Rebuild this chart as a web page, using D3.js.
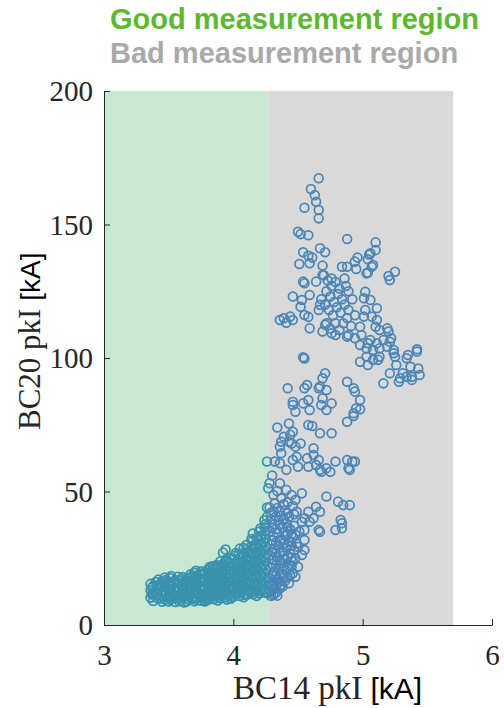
<!DOCTYPE html>
<html>
<head>
<meta charset="utf-8">
<script src="https://cdn.jsdelivr.net/npm/d3@7/dist/d3.min.js"></script>
<style>
  body { margin: 0; background: #fff; }
  svg { display: block; }
</style>
</head>
<body>
<svg id="chart" width="504" height="708"></svg>
<script>
// Axis ticks
const xTicks = [3, 4, 5, 6];
const yTicks = [0, 50, 100, 150, 200];

// Measurement regions along BC14 pkI [kA]: good from 3 to 4.27, bad from 4.27 to 5.7
const regionEdges = [3, 4.27, 5.7];
const regionNames = ["Good measurement region", "Bad measurement region"];

// Shots as [BC14 pkI, BC20 pkI] in kA — low-current band
const lowBand = [
  [3.36,10.2],[3.36,13.0],[3.36,15.4],[3.38,9.0],[3.38,11.8],[3.38,14.6],
  [3.40,10.4],[3.40,12.5],[3.40,16.1],[3.42,9.8],[3.42,13.6],[3.42,17.0],
  [3.45,8.7],[3.45,11.0],[3.45,14.2],[3.45,16.5],[3.47,9.5],[3.47,12.8],[3.47,15.6],[3.47,17.8],
  [3.50,8.8],[3.50,10.6],[3.50,13.4],[3.50,16.2],[3.52,9.9],[3.52,12.0],[3.52,14.9],[3.52,18.3],
  [3.55,8.6],[3.55,11.2],[3.55,14.0],[3.55,16.8],[3.57,10.0],[3.57,12.7],[3.57,15.5],[3.57,18.1],
  [3.60,9.2],[3.60,11.9],[3.60,14.6],[3.60,17.3],[3.62,8.4],[3.62,10.8],[3.62,13.5],[3.62,16.0],
  [3.65,9.6],[3.65,12.3],[3.65,15.1],[3.65,17.6],[3.67,11.1],[3.67,13.9],[3.67,16.7],[3.67,19.0],
  [3.70,8.9],[3.70,11.6],[3.70,14.4],[3.70,17.0],[3.70,19.6],[3.72,10.3],[3.72,13.0],[3.72,15.8],[3.72,18.4],
  [3.75,9.1],[3.75,11.8],[3.75,14.7],[3.75,17.5],[3.75,20.1],[3.77,10.5],[3.77,13.3],[3.77,16.1],[3.77,18.9],
  [3.80,9.4],[3.80,12.2],[3.80,15.0],[3.80,17.8],[3.80,20.6],[3.82,10.9],[3.82,13.8],[3.82,16.6],[3.82,19.3],[3.82,21.8],
  [3.85,9.7],[3.85,12.5],[3.85,15.3],[3.85,18.1],[3.85,21.0],[3.87,11.2],[3.87,14.1],[3.87,16.9],[3.87,19.8],[3.87,22.5],
  [3.90,10.0],[3.90,12.8],[3.90,15.6],[3.90,18.5],[3.90,21.3],[3.90,23.9],
  [3.92,11.5],[3.92,14.4],[3.92,17.2],[3.92,20.1],[3.92,22.8],[3.92,27.1],
  [3.94,10.3],[3.94,13.1],[3.94,16.0],[3.94,18.8],[3.94,21.6],[3.94,24.4],[3.94,28.3],
  [3.97,11.8],[3.97,14.7],[3.97,17.5],[3.97,20.4],[3.97,23.2],
  [4.00,10.6],[4.00,13.4],[4.00,16.3],[4.00,19.1],[4.00,22.0],[4.00,24.8],
  [4.02,12.1],[4.02,15.0],[4.02,17.8],[4.02,20.7],[4.02,23.5],[4.02,27.0],
  [4.05,10.9],[4.05,13.7],[4.05,16.6],[4.05,19.4],[4.05,22.3],[4.05,25.2],[4.05,28.6],
  [4.07,12.4],[4.07,15.3],[4.07,18.1],[4.07,21.0],[4.07,23.9],[4.07,26.7],
  [4.10,11.2],[4.10,14.0],[4.10,16.9],[4.10,19.8],[4.10,22.6],[4.10,25.5],[4.10,28.4],[4.10,30.0],
  [4.12,12.7],[4.12,15.6],[4.12,18.5],[4.12,21.3],[4.12,24.2],[4.12,27.1],
  [4.15,11.5],[4.15,14.3],[4.15,17.2],[4.15,20.1],[4.15,23.0],[4.15,25.8],[4.15,28.7],[4.15,31.5],[4.15,34.3],
  [4.17,13.0],[4.17,15.9],[4.17,18.8],[4.17,21.7],[4.17,24.5],[4.17,27.4],[4.17,30.3],
  [4.20,11.8],[4.20,14.6],[4.20,17.5],[4.20,20.4],[4.20,23.3],[4.20,26.2],[4.20,29.0],[4.20,31.9],[4.20,35.0],
  [4.22,13.3],[4.22,16.2],[4.22,19.1],[4.22,22.0],[4.22,24.9],[4.22,27.8],[4.22,30.6],[4.22,33.5],
  [4.25,12.1],[4.25,14.9],[4.25,17.8],[4.25,20.7],[4.25,23.6],[4.25,26.5],[4.25,29.4],[4.25,32.3],[4.25,35.2],[4.25,37.8],
  [4.26,40.5],[4.26,44.0],
  [3.53,11.0],[3.63,11.5],[3.73,12.0],[3.83,11.6],[3.93,12.4],[4.03,13.8],[4.13,13.2],[4.23,15.5],
  [3.68,9.9],[3.78,9.6],[3.88,9.2],[3.98,9.8],[4.08,10.4],[4.18,10.9]
];

// More shots packed inside the same low-current band
const lowBandCore = [
  [3.37,11.5],[3.37,14.0],[3.41,11.2],[3.41,14.9],[3.44,10.0],[3.44,12.6],[3.44,15.3],
  [3.48,11.3],[3.48,14.2],[3.48,16.9],[3.51,9.5],[3.51,12.3],[3.51,15.4],[3.51,17.6],
  [3.54,10.4],[3.54,13.1],[3.54,15.8],[3.58,8.9],[3.58,11.4],[3.58,14.1],[3.58,16.7],
  [3.61,10.3],[3.61,13.0],[3.61,15.6],[3.61,18.0],[3.64,8.8],[3.64,11.5],[3.64,14.2],[3.64,16.8],
  [3.68,10.0],[3.68,12.7],[3.68,15.4],[3.68,18.2],[3.71,9.6],[3.71,12.4],[3.71,15.1],[3.71,17.8],[3.71,20.3],
  [3.74,10.6],[3.74,13.5],[3.74,16.3],[3.74,19.0],[3.78,8.8],[3.78,11.5],[3.78,14.3],[3.78,17.1],[3.78,19.8],
  [3.81,10.2],[3.81,13.0],[3.81,15.9],[3.81,18.6],[3.81,21.2],[3.84,11.0],[3.84,13.9],[3.84,16.8],[3.84,19.6],[3.84,22.0],
  [3.88,10.4],[3.88,13.2],[3.88,16.0],[3.88,18.9],[3.88,21.7],[3.91,11.1],[3.91,14.0],[3.91,16.8],[3.91,19.7],[3.91,22.3],
  [3.95,9.5],[3.95,12.3],[3.95,15.2],[3.95,18.0],[3.95,20.9],[3.95,23.8],
  [3.98,10.8],[3.98,13.6],[3.98,16.5],[3.98,19.3],[3.98,22.2],[3.98,25.0],
  [4.01,11.6],[4.01,14.4],[4.01,17.3],[4.01,20.1],[4.01,23.0],[4.01,25.9],
  [4.04,12.0],[4.04,14.9],[4.04,17.8],[4.04,20.6],[4.04,23.5],[4.04,26.3],
  [4.08,11.6],[4.08,14.5],[4.08,17.4],[4.08,20.3],[4.08,23.1],[4.08,26.0],[4.08,28.8],
  [4.11,12.9],[4.11,15.8],[4.11,18.7],[4.11,21.6],[4.11,24.4],[4.11,27.3],
  [4.14,12.3],[4.14,15.2],[4.14,18.1],[4.14,21.0],[4.14,23.8],[4.14,26.7],[4.14,29.6],[4.14,32.2],
  [4.18,12.4],[4.18,15.3],[4.18,18.2],[4.18,21.1],[4.18,24.0],[4.18,26.9],[4.18,29.8],[4.18,32.7],
  [4.21,12.8],[4.21,15.7],[4.21,18.6],[4.21,21.5],[4.21,24.4],[4.21,27.3],[4.21,30.2],[4.21,33.0],[4.21,36.2],
  [4.24,13.5],[4.24,16.4],[4.24,19.3],[4.24,22.2],[4.24,25.1],[4.24,28.0],[4.24,30.9],[4.24,33.8],[4.24,36.6],[4.24,39.2]
];

// Shots just past the threshold where BC20 starts to climb
const rampBand = [
  [4.28,44.0],[4.31,42.5],[4.34,43.8],[4.37,41.0],[4.40,43.0],[4.43,40.5],[4.29,39.5],[4.32,37.8],
  [4.35,39.2],[4.38,36.5],[4.41,38.0],[4.44,35.9],[4.47,37.2],[4.28,35.0],[4.31,33.2],[4.34,34.6],
  [4.37,32.0],[4.40,33.5],[4.43,31.2],[4.46,32.8],[4.49,30.5],[4.29,30.2],[4.32,28.6],[4.35,29.8],
  [4.38,27.4],[4.41,28.9],[4.44,26.7],[4.47,28.0],[4.28,26.1],[4.31,24.3],[4.34,25.5],[4.37,23.1],
  [4.40,24.6],[4.43,22.4],[4.46,23.8],[4.29,21.7],[4.32,20.0],[4.35,21.2],[4.38,18.9],[4.41,20.4],
  [4.44,18.5],[4.28,17.6],[4.31,16.0],[4.34,17.2],[4.37,15.1],[4.40,16.6],[4.30,13.0],[4.33,12.2],
  [4.36,13.8],[4.29,10.9],
  [4.29,42.0],[4.33,40.6],[4.36,42.4],[4.39,39.8],[4.42,41.8],[4.30,36.4],[4.33,35.9],[4.36,37.5],
  [4.39,34.8],[4.42,36.5],[4.45,34.1],[4.30,31.6],[4.33,31.0],[4.36,31.4],[4.39,30.6],[4.42,29.8],
  [4.45,29.8],[4.48,33.8],[4.30,27.4],[4.33,26.8],[4.36,27.3],[4.39,26.0],[4.42,25.6],[4.45,25.3],
  [4.30,22.8],[4.33,22.5],[4.36,24.0],[4.39,22.0],[4.42,21.5],[4.45,21.8],[4.30,18.8],[4.33,18.4],
  [4.36,19.0],[4.39,17.6],[4.42,17.8],[4.30,15.0],[4.33,14.8],[4.35,15.9],[4.38,14.4],[4.28,12.6],
  [4.31,11.3],[4.34,11.0],
  [4.45,68.0],[4.37,64.3],[4.26,61.2],[4.32,61.2],[4.36,60.6],[4.41,58.1],[4.49,63.0],[4.57,62.4],
  [4.62,63.7],[4.66,61.8],[4.64,59.9],[4.58,59.3],[4.67,58.1],[4.72,58.7],[4.75,57.4],[4.79,61.2],
  [4.27,51.2],[4.31,48.7],[4.36,53.1],[4.41,50.6],[4.45,48.7],[4.37,47.5],[4.53,49.3],[4.48,46.8],
  [4.32,45.6],[4.72,48.1],[4.81,46.2],[4.64,44.3],[4.67,42.4],[4.58,42.4],[4.62,40.0],[4.55,40.0],
  [4.49,42.4],[4.83,39.3],[4.79,35.6],[4.84,36.2],[4.66,35.6],[4.55,35.6],[4.55,31.8],[4.50,29.3],
  [4.55,28.1],[4.53,26.2],[4.48,25.0],[4.50,21.8],[4.46,19.4],[4.48,18.1],[4.43,15.6],[4.32,13.7],
  [4.27,11.9],
  [4.88,61.8],[4.92,61.2],[4.94,61.2],[4.90,58.1],[4.85,44.9],[4.90,44.9],[4.84,38.1],
  [4.44,71.2],[4.36,66.8],[4.46,61.8],[4.50,59.3],[4.68,57.4],[4.89,58.7],[4.53,38.7],[4.59,38.7],
  [4.67,34.9],[4.28,53.1],
  [4.30,56.0],[4.34,50.2],[4.39,45.2],[4.42,46.0],[4.46,44.6],[4.51,35.0],[4.47,41.5],[4.42,34.0]
];

// Shots in the middle range of BC20 pkI
const midBand = [
  [4.36,114.2],[4.41,113.2],[4.71,112.4],[4.79,108.6],[4.89,108.6],[4.94,107.4],[4.99,108.6],[4.98,104.9],
  [4.54,100.3],[4.55,99.8],[4.71,94.3],[4.69,92.4],[4.67,89.3],[4.72,88.0],[4.66,88.7],[4.57,89.9],
  [4.55,88.7],[4.42,88.7],[4.88,91.1],[4.93,88.7],[4.94,87.4],[4.98,84.3],[4.95,81.2],[4.93,79.3],
  [4.88,76.1],[4.46,83.6],[4.46,82.4],[4.48,79.9],[4.54,83.0],[4.58,84.3],[4.59,80.5],[4.69,84.9],
  [4.68,82.4],[4.72,80.5],[4.76,83.0],[4.34,74.0],[4.43,75.5],[4.46,72.4],[4.39,70.5],[4.58,74.9],
  [4.61,74.5],[4.67,71.8],[4.76,71.8],[4.43,68.6],[4.37,68.6],[4.52,68.0],[4.48,66.8],[4.62,66.2],
  [4.98,80.8],[4.93,78.3],[5.38,91.8]
];

// Shots with the highest BC20 pkI
const highBand = [
  [4.66,167.3],[4.60,163.3],[4.63,161.0],[4.64,158.5],[4.55,156.3],[4.66,155.4],[4.66,152.3],[4.50,147.3],
  [4.52,146.4],[4.58,146.0],[4.88,144.6],[5.10,143.3],[4.67,141.1],[4.71,139.6],[4.54,139.6],[4.58,138.3],
  [4.61,137.6],[4.59,135.5],[4.51,135.2],[4.69,134.6],[4.96,137.6],[4.94,136.1],[5.05,138.8],[5.08,134.8],
  [5.04,131.9],[4.95,133.3],[4.88,134.2],[4.84,134.2],[4.69,131.1],[4.54,128.6],[4.55,128.0],[4.64,128.6],
  [4.76,129.8],[4.86,129.8],[5.10,140.4],[5.06,139.2],[5.04,137.0],[5.25,132.3],[5.20,130.7],[5.21,129.2],
  [5.07,134.2],[5.03,131.7],
  [4.70,131.0],[4.73,129.0],[4.76,127.0],[4.79,128.5],[4.82,126.0],[4.72,125.0],[4.75,123.0],[4.78,121.0],
  [4.81,124.0],[4.84,122.0],[4.87,127.0],[4.89,125.0],[4.71,120.0],[4.74,118.0],[4.77,116.0],[4.80,119.0],
  [4.83,117.0],[4.86,120.0],[4.89,118.0],[4.92,122.0],[4.72,113.0],[4.75,111.0],[4.79,113.0],[4.82,110.5],
  [4.85,113.0],[4.88,115.0],[4.91,112.0],[4.94,116.0],[4.68,122.0],[4.66,118.0],
  [4.46,123.0],[4.53,121.7],[4.52,119.2],[4.59,123.6],[4.55,116.1],[4.58,115.4],[4.39,114.9],[4.44,115.5],
  [4.46,114.2],[4.59,111.1],[4.67,119.9],[4.69,109.9],[4.76,109.3],[4.88,108.0],[5.01,115.5],[4.98,111.7],
  [5.11,114.2],[5.06,106.7],[5.20,109.9],[5.21,106.1],[5.42,103.3],
  [5.02,124.8],[5.01,122.4],[5.06,121.7],[5.11,118.6],[5.02,118.0],[5.07,115.5],[5.10,111.7],[5.13,110.5],
  [5.19,111.1],[5.22,107.4],[5.16,106.7],[5.11,105.5],[5.04,105.5],[5.03,103.6],[5.08,103.0],[5.13,103.6],
  [5.19,104.2],[5.24,103.0],[5.25,100.5],[5.03,100.5],[5.08,99.3],[5.04,97.4],[5.12,99.3],[5.42,102.4],
  [5.35,101.1],[5.34,99.9],[5.37,96.7],[5.43,96.1],[5.44,93.6],[5.38,93.0],[5.31,94.3],[5.29,92.4],
  [5.28,91.1],[5.21,94.3],[5.16,90.5],[4.98,98.6],[5.13,100.5],[5.24,101.8],[5.26,97.4],[5.34,93.0]
];

const shots = [...lowBand, ...lowBandCore, ...rampBand, ...midBand, ...highBand];

const svg = d3.select("#chart");
const x = d3.scaleLinear().domain([3, 6]).range([104, 492]);
const y = d3.scaleLinear().domain([0, 200]).range([625, 91]);

const axisColor = "#262626";
const serif = "'Liberation Serif', 'Times New Roman', serif";
const sans = "'Liberation Sans', Arial, sans-serif";

// Region headings
const headColors = ["#5cb82e", "#a9a9a9"];
svg.selectAll("text.head")
  .data(regionNames)
  .join("text")
  .attr("class", "head")
  .attr("x", 110)
  .attr("y", (d, i) => 29 + i * 34)
  .attr("font-family", sans)
  .attr("font-weight", "bold")
  .attr("font-size", 29)
  .attr("fill", (d, i) => headColors[i])
  .text(d => d);

// Shaded regions
const regionFill = ["#c9e8d3", "#d9d9d9"];
const regions = d3.pairs(regionEdges);
svg.append("g").selectAll("rect")
  .data(regions)
  .join("rect")
  .attr("x", d => x(d[0]))
  .attr("width", d => x(d[1]) - x(d[0]))
  .attr("y", y(200))
  .attr("height", y(0) - y(200))
  .attr("fill", (d, i) => regionFill[i]);

// Clip paths so markers take the tint of the region they sit in
const defs = svg.append("defs");
defs.append("clipPath").attr("id", "clip-good")
  .append("rect")
  .attr("x", 0).attr("y", 0)
  .attr("width", x(regionEdges[1])).attr("height", 708);
defs.append("clipPath").attr("id", "clip-bad")
  .append("rect")
  .attr("x", x(regionEdges[1])).attr("y", 0)
  .attr("width", 504 - x(regionEdges[1])).attr("height", 708);

const markerColors = ["#3a92ae", "#4a86b8"];
["clip-good", "clip-bad"].forEach((id, i) => {
  svg.append("g")
    .attr("clip-path", `url(#${id})`)
    .selectAll("circle")
    .data(shots)
    .join("circle")
    .attr("cx", d => x(d[0]))
    .attr("cy", d => y(d[1]))
    .attr("r", 4.4)
    .attr("fill", "none")
    .attr("stroke", markerColors[i])
    .attr("stroke-width", 1.75);
});

// Axes (ticks point inward, no box)
const xAxis = svg.append("g")
  .attr("transform", `translate(0,${y(0)})`)
  .call(d3.axisBottom(x).tickValues(xTicks).tickSizeInner(-6).tickSizeOuter(0).tickFormat(d3.format("d")));
const yAxis = svg.append("g")
  .attr("transform", `translate(${x(3)},0)`)
  .call(d3.axisLeft(y).tickValues(yTicks).tickSizeInner(-6).tickSizeOuter(0).tickFormat(d3.format("d")));

[xAxis, yAxis].forEach(g => {
  g.select(".domain").attr("stroke", axisColor).attr("stroke-width", 1);
  g.selectAll(".tick line").attr("stroke", axisColor).attr("stroke-width", 1);
  g.selectAll(".tick text")
    .attr("font-family", serif)
    .attr("font-size", 29)
    .attr("fill", axisColor);
});
xAxis.selectAll(".tick text").attr("y", 40).attr("dy", 0);
yAxis.selectAll(".tick text").attr("x", -11).attr("dy", "0.34em");

// Axis titles: quantity in serif, unit in sans
const xTitle = svg.append("text")
  .attr("x", 233)
  .attr("y", 699)
  .attr("fill", axisColor);
xTitle.append("tspan").attr("font-family", serif).attr("font-size", 33).text("BC14 pkI ");
xTitle.append("tspan").attr("font-family", sans).attr("font-size", 30).attr("fill", "#000").text("[kA]");

const yTitle = svg.append("text")
  .attr("transform", "translate(40,430) rotate(-90)")
  .attr("fill", axisColor);
yTitle.append("tspan").attr("font-family", serif).attr("font-size", 31).text("BC20 pkI ");
yTitle.append("tspan").attr("font-family", sans).attr("font-size", 28).attr("fill", "#000").text("[kA]");
</script>
</body>
</html>
